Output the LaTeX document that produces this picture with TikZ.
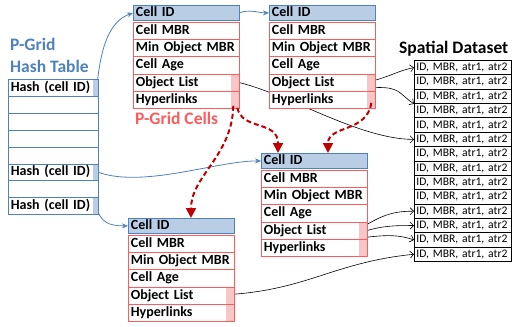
\documentclass[tikz,border=0pt]{standalone}
\usepackage{fontspec}
\setmainfont{Carlito}
\usetikzlibrary{arrows.meta,calc,backgrounds}
\definecolor{hblue}{HTML}{4F81BD}
\definecolor{idfill}{HTML}{B9CDE5}
\definecolor{cred}{HTML}{FF5B5B}
\definecolor{cpink}{HTML}{F9C6C6}
\definecolor{dred}{HTML}{C00000}
\tikzset{
  lbl/.style={anchor=north west, inner xsep=2.5pt, inner ysep=0pt, align=left,
    text height=10pt, text depth=3pt, line width=0.8pt,
    font=\bfseries\fontsize{14}{14}\selectfont},
  idbox/.style={lbl, draw=hblue, fill=idfill, text width=100.5pt, minimum height=15pt},
  rowbox/.style={lbl, draw=cred, fill=white, text width=100.5pt, minimum height=17.2pt},
  stripbox/.style={rowbox, path picture={\fill[cpink]
      ($(path picture bounding box.north east)+(-8,0)$) rectangle (path picture bounding box.south east);}},
  hashbox/.style={lbl, draw=hblue, fill=white, text width=85pt, minimum height=16.9pt},
  hashkey/.style={hashbox, path picture={\fill[idfill]
      ($(path picture bounding box.north east)+(-5,0)$) rectangle (path picture bounding box.south east);}},
  databox/.style={anchor=north west, inner xsep=2pt, inner ysep=0pt, align=left,
    text height=8.5pt, text depth=2.5pt, draw=black, fill=white, line width=0.8pt,
    text width=93pt, minimum height=14.36pt, font=\fontsize{11.6}{11.6}\selectfont},
  title/.style={anchor=base west, inner sep=0pt, font=\bfseries\fontsize{17.5}{17.5}\selectfont},
  bluelink/.style={draw=hblue, line width=0.8pt, -{Stealth[length=6pt,width=5pt]}, color=hblue},
  blacklink/.style={draw=black, line width=0.6pt, -{Straight Barb[length=3.5pt,width=7pt]}},
  hyperlink/.style={draw=dred, line width=2pt, dash pattern=on 5pt off 3pt,
    -{Triangle[length=10pt,width=10pt]}},
}
\newcommand\pgcell[3]{%
  \node[idbox] (#1id) at (#2,#3) {Cell ID};
  \node[rowbox] (#1mbr) at (#2,#3+17) {Cell MBR};
  \node[rowbox] (#1min) at (#2,#3+34.2) {Min Object MBR};
  \node[rowbox] (#1age) at (#2,#3+51.4) {Cell Age};
  \node[stripbox] (#1ol) at (#2,#3+68.6) {Object List};
  \node[stripbox] (#1hl) at (#2,#3+85.8) {Hyperlinks};
}
\begin{document}
\begin{tikzpicture}[x=1pt,y=-1pt]
\useasboundingbox (0,0) rectangle (512,327);
% titles
\node[title, text=hblue] (t1) at (10,50) {P-Grid};
\node[title, text=hblue] (t2) at (10,72) {Hash Table};
\node[title, text=cred] (t3) at (135,124) {P-Grid Cells};
\node[title] (t4) at (399,53) {Spatial Dataset};
% hash table
\node[hashkey] (h1) at (8,79) {Hash (cell ID)};
\node[hashbox] (h2) at (8,95.9) {};
\node[hashbox] (h3) at (8,112.8) {};
\node[hashbox] (h4) at (8,129.7) {};
\node[hashbox] (h5) at (8,146.6) {};
\node[hashkey] (h6) at (8,163.5) {Hash (cell ID)};
\node[hashbox] (h7) at (8,180.4) {};
\node[hashkey] (h8) at (8,197.3) {Hash (cell ID)};
% cells
\pgcell{p1}{133}{5}
\pgcell{p2}{269}{5}
\pgcell{p3}{261}{153}
\pgcell{p4}{128}{218}
% spatial dataset
\foreach \i in {1,...,14}{
  \node[databox] (d\i) at (414,{60+14.36*(\i-1)}) {\mbox{ID, MBR, atr1, atr2}};
}
\begin{pgfonlayer}{background}
% blue links
\draw[bluelink] ($(h1.east)+(-2,0)$) .. controls +(4,-45) and +(-22,8) .. (p1id.west);
\draw[bluelink] (p1id.east) .. controls +(10,-4) and +(-10,0) .. (p2id.west);
\draw[bluelink] ($(h6.east)+(-3,-1)$) .. controls +(45,18) and +(-45,0) .. (p3id.west);
\draw[bluelink] ($(h8.east)+(-3,-3)$) .. controls +(3,20) and +(-18,0) .. (p4id.west);
% object lists
\draw[blacklink] (p1ol.east) .. controls +(50,12) and +(-54,0) .. (d6.west);
\draw[blacklink] ($(p2ol.east)+(0,-2.5)$) .. controls +(15,-4) and +(-15,3) .. (d1.west);
\draw[blacklink] ($(p2ol.east)+(0,5)$) .. controls +(25,-1) and +(-15,-10) .. (d3.south west);
\draw[blacklink] ($(p3ol.east)+(-4,-4)$) .. controls +(20,-12) and +(-20,0) .. (d11.west);
\draw[blacklink] ($(p3ol.east)+(-4,1)$) .. controls +(20,-6) and +(-20,0) .. (d12.west);
\draw[blacklink] ($(p3ol.east)+(-4,7)$) .. controls +(25,-3) and +(-15,-5) .. (d13.west);
\draw[blacklink] ($(p4ol.east)+(-6,-1)$) .. controls +(80,-5) and +(-80,8) .. (d14.west);
\end{pgfonlayer}
% hyperlinks
\draw[hyperlink] ($(p1hl.south east)+(-6,-3)$) .. controls +(-1,50) and +(0,-42) .. ($(p4id.north west)+(63,0)$);
\draw[hyperlink] ($(p1hl.south east)+(-2,-1)$) .. controls +(5,23) and +(0,-33) .. ($(p3id.north west)+(17,0)$);
\draw[hyperlink] ($(p2hl.south east)+(-4,-6)$) .. controls +(-4,30) and +(0,-28) .. ($(p3id.north west)+(67,0)$);
\end{tikzpicture}
\end{document}
